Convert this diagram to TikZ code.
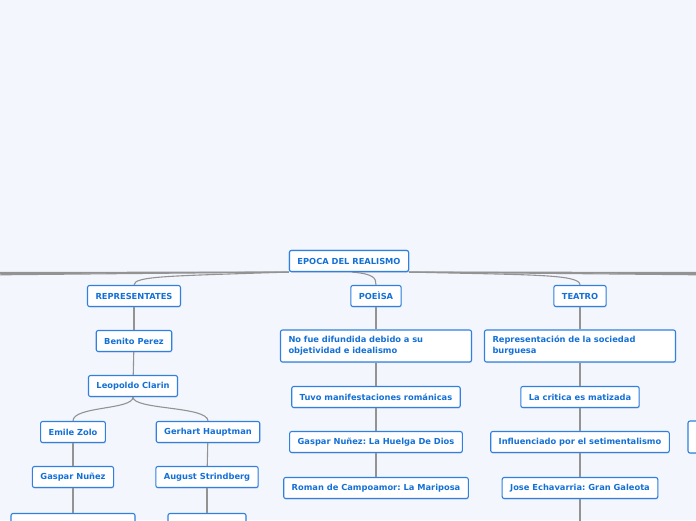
\documentclass[tikz,border=0pt]{standalone}
\usepackage{fontspec}
\setmainfont{DejaVu Sans}
\frenchspacing
\usetikzlibrary{positioning, shadows}
\definecolor{bgblue}{HTML}{F3F6FD}
\definecolor{boxblue}{HTML}{2F80E0}
\definecolor{txtblue}{HTML}{1570D6}
\definecolor{linkgray}{HTML}{939393}
\tikzset{
  topic/.style={draw=boxblue, fill=white, rounded corners=2pt, line width=1.1pt,
    text=txtblue, font=\bfseries\fontsize{8.3}{11}\selectfont,
    inner xsep=8pt, inner ysep=0pt, minimum height=21pt,
    drop shadow={opacity=0.18, shadow xshift=0.6pt, shadow yshift=-1.2pt}},
  longtopic/.style={topic, text width=175pt, align=left, minimum height=32pt},
  link/.style={draw=linkgray, line width=1.1pt},
}
\begin{document}
\begin{tikzpicture}[x=1pt, y=-1pt]
        \path[clip] (0,0) rectangle (696,520);
        \fill[bgblue] (0,0) rectangle (696,520);

        % ===================================================
        % 1. ROOT
        % ===================================================
        \node[topic] (root) at (349,261) {EPOCA DEL REALISMO};

        % branches running off the page
        \coordinate (offL1) at (-10,272.5);
        \coordinate (offL2) at (-10,273.7);
        \coordinate (offL3) at (-10,274.9);
        \coordinate (offR1) at (710,272.5);
        \coordinate (offR2) at (710,273.7);
        \coordinate (offR3) at (710,274.9);
        \node[topic, minimum width=60pt, minimum height=32pt] (rnode) at (718,437) {};

        % ===================================================
        % 2. MAIN TOPICS
        % ===================================================
        \node[topic] (rep) at (134,296) {REPRESENTATES};
        \node[topic] (poe) at (376,296) {POEÌSA};
        \node[topic] (tea) at (580,296) {TEATRO};

        % ===================================================
        % 3. REPRESENTATES
        % ===================================================
        \node[topic] (ben) at (134,341) {Benito Perez};
        \node[topic] (leo) at (133,386) {Leopoldo Clarin};
        \node[topic] (emi) at (73,432) {Emile Zolo};
        \node[topic] (ger) at (208,432) {Gerhart Hauptman};
        \node[topic] (gas) at (73,477) {Gaspar Nuñez};
        \node[topic] (aug) at (207,477) {August Strindberg};
        \node[topic, minimum width=124pt] (gasB) at (73,524) {};
        \node[topic, minimum width=78pt] (augB) at (207,524) {};

        % ===================================================
        % 4. POESIA
        % ===================================================
        \node[longtopic] (poe1) at (376,346) {No fue difundida debido a su\\objetividad e idealismo};
        \node[topic] (poe2) at (376,397) {Tuvo manifestaciones románicas};
        \node[topic] (poe3) at (376,442) {Gaspar Nuñez: La Huelga De Dios};
        \node[topic] (poe4) at (376,488) {Roman de Campoamor: La Mariposa};

        % ===================================================
        % 5. TEATRO
        % ===================================================
        \node[longtopic] (tea1) at (580,346) {Representación de la sociedad\\burguesa};
        \node[topic] (tea2) at (580,397) {La critica es matizada};
        \node[topic] (tea3) at (580,442) {Influenciado por el setimentalismo};
        \node[topic] (tea4) at (580,488) {Jose Echavarria: Gran Galeota};
        \coordinate (teaDown) at (580,530);

        % ===================================================
        % 6. CONNECTORS
        % ===================================================
        \draw[link] (root.south west) -- (offL1);
        \draw[link] (root.south west) -- (offL2);
        \draw[link] (root.south west) -- (offL3);
        \draw[link] (root.south east) -- (offR1);
        \draw[link] (root.south east) -- (offR2);
        \draw[link] (root.south east) -- (offR3);

        \draw[link] (root.south west) .. controls (170,276) and (134,276) .. (rep.north);
        \draw[link] (root.-75) .. controls (374,274) and (376,278) .. (poe.north);
        \draw[link] (root.south east) .. controls (530,275) and (580,274) .. (tea.north);

        \draw[link] (rep) -- (ben);
        \draw[link] (ben) -- (leo);
        \draw[link] (leo.south) .. controls (133,410) and (73,406) .. (emi.north);
        \draw[link] (leo.south) .. controls (133,410) and (208,406) .. (ger.north);
        \draw[link] (emi) -- (gas);
        \draw[link] (ger) -- (aug);
        \draw[link] (gas) -- (gasB);
        \draw[link] (aug) -- (augB);

        \draw[link] (poe) -- (poe1);
        \draw[link] (poe1) -- (poe2);
        \draw[link] (poe2) -- (poe3);
        \draw[link] (poe3) -- (poe4);

        \draw[link] (tea) -- (tea1);
        \draw[link] (tea1) -- (tea2);
        \draw[link] (tea2) -- (tea3);
        \draw[link] (tea3) -- (tea4);
        \draw[link] (tea4) -- (teaDown);

        % root box again, over its branches
        \node[topic] at (root) {EPOCA DEL REALISMO};
\end{tikzpicture}
\end{document}
